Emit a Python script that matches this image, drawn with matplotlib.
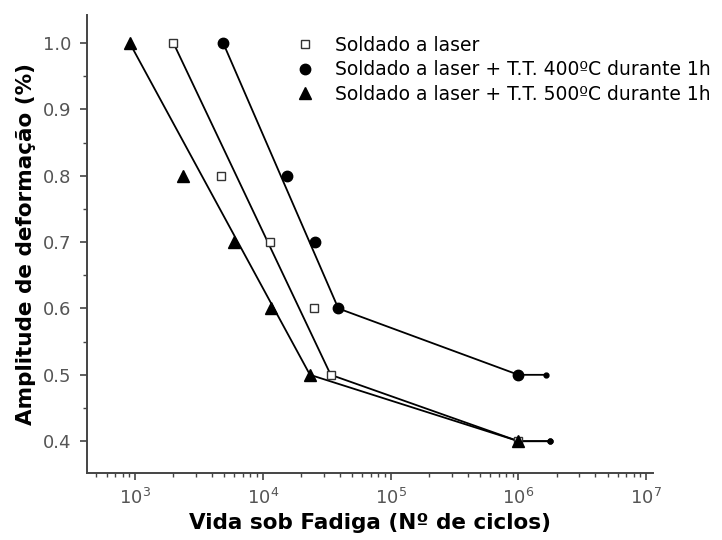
import matplotlib
matplotlib.use("Agg")
import matplotlib.pyplot as plt
from matplotlib.ticker import LogLocator, MultipleLocator, NullFormatter, FixedLocator

# Strain amplitude levels (%) and fatigue lives (cycles)
amp_laser = [1.0, 0.8, 0.7, 0.6, 0.5, 0.4]
life_laser = [2000, 4700, 11300, 25000, 34000, 1.0e6]

amp_400 = [1.0, 0.8, 0.7, 0.6, 0.5]
life_400 = [4900, 15500, 25800, 39000, 1.0e6]

amp_500 = [1.0, 0.8, 0.7, 0.6, 0.5, 0.4]
life_500 = [910, 2370, 6000, 11700, 23400, 1.0e6]

# Run-out (no failure) end points
runout_laser = [1.78e6, 0.4]
runout_400 = [1.65e6, 0.5]
runout_500 = [1.78e6, 0.4]

# Index of the knee in each curve (end of the steep branch)
knee_laser = 4
knee_400 = 3
knee_500 = 4

labels = ["Soldado a laser",
          "Soldado a laser + T.T. 400ºC durante 1h",
          "Soldado a laser + T.T. 500ºC durante 1h"]

fig = plt.figure(figsize=(7.22, 5.40), dpi=100)
ax = fig.add_axes([0.1205, 0.124, 0.7835, 0.848])


def trend(life, amp, knee, runout):
    xs = [life[0], life[knee]] + life[knee + 1:] + [runout[0]]
    ys = [amp[0], amp[knee]] + amp[knee + 1:] + [runout[1]]
    ax.plot(xs, ys, color="black", lw=1.3, zorder=2)
    ax.plot([runout[0]], [runout[1]], marker="o", ms=3.5, color="black",
            ls="none", zorder=3)


trend(life_laser, amp_laser, knee_laser, runout_laser)
trend(life_400, amp_400, knee_400, runout_400)
trend(life_500, amp_500, knee_500, runout_500)

h1, = ax.plot(life_laser, amp_laser, ls="none", marker="s", ms=5.5,
              mfc="white", mec="#333333", mew=1.0, zorder=4)
h2, = ax.plot(life_400, amp_400, ls="none", marker="o", ms=7.5,
              color="black", zorder=4)
h3, = ax.plot(life_500, amp_500, ls="none", marker="^", ms=8,
              color="black", zorder=4)

ax.set_xscale("log")
ax.set_xlim(10 ** 2.625, 10 ** 7.05)
ax.set_ylim(0.352, 1.042)

ax.xaxis.set_major_locator(FixedLocator([1e3, 1e4, 1e5, 1e6, 1e7]))
ax.xaxis.set_minor_locator(LogLocator(base=10, subs=range(2, 10), numticks=20))
ax.xaxis.set_minor_formatter(NullFormatter())
ax.yaxis.set_major_locator(FixedLocator([0.4, 0.5, 0.6, 0.7, 0.8, 0.9, 1.0]))
ax.yaxis.set_minor_locator(MultipleLocator(0.05))
ax.set_yticklabels(["0.4", "0.5", "0.6", "0.7", "0.8", "0.9", "1.0"])

for side in ("top", "right"):
    ax.spines[side].set_visible(False)
for side in ("left", "bottom"):
    ax.spines[side].set_linewidth(1.4)
    ax.spines[side].set_color("#444444")

ax.tick_params(which="major", direction="out", length=5, width=1.2,
               colors="#444444", labelsize=13, labelcolor="#555555", pad=6)
ax.tick_params(which="minor", direction="out", length=3, width=1.0,
               colors="#444444")

ax.set_xlabel("Vida sob Fadiga (Nº de ciclos)", fontsize=15.5,
              fontweight="bold", labelpad=3)
ax.set_ylabel("Amplitude de deformação (%)", fontsize=15.5,
              fontweight="bold", labelpad=5)

leg = ax.legend([h1, h2, h3], labels, loc="upper left",
                bbox_to_anchor=(0.4095, 0.934), bbox_transform=fig.transFigure,
                frameon=False, fontsize=13.5, handlelength=1.0,
                handletextpad=1.1, labelspacing=0.3, borderaxespad=0,
                borderpad=0)
leg.set_zorder(5)

fig.savefig("out.png", dpi=100)
